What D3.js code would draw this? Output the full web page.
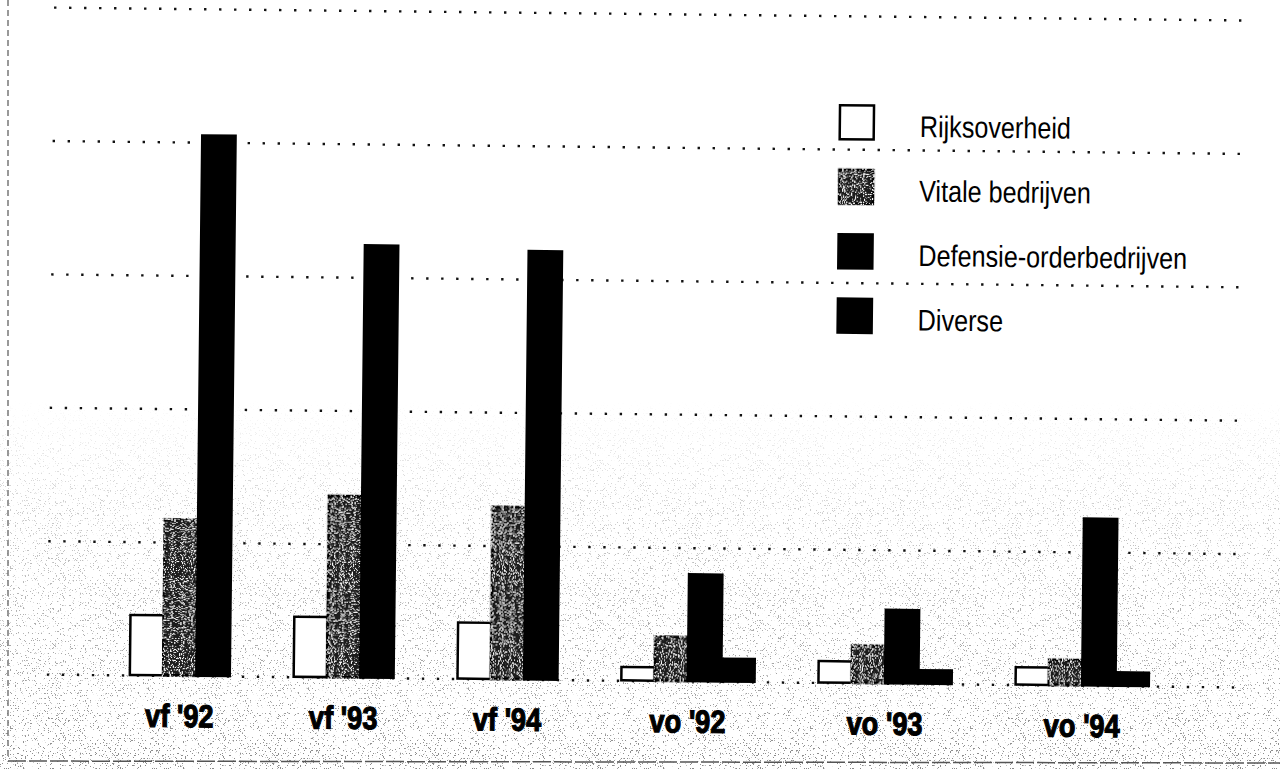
<html>
<head>
  <meta charset="UTF-8">
  <title>vf / vo per sector</title>
  <script src="https://d3js.org/d3.v7.min.js"></script>
  <style>
    body { margin: 0; background: #fff; }
  </style>
</head>
<body>
  <svg id="chart" width="1280" height="769"></svg>
  <script>
    // values, in gridline steps (no value axis is printed)
    const groups = ["vf '92", "vf '93", "vf '94", "vo '92", "vo '93", "vo '94"];
    const seriesNames = ["Rijksoverheid", "Vitale bedrijven", "Defensie-orderbedrijven", "Diverse"];
    const rijksoverheid = [0.45, 0.45, 0.42, 0.10, 0.16, 0.13];
    const vitaleBedrijven = [1.17, 1.36, 1.29, 0.33, 0.28, 0.19];
    const defensieOrderbedrijven = [4.05, 3.24, 3.21, 0.80, 0.55, 1.25];
    const diverse = [null, null, null, 0.17, 0.10, 0.10];
    const gridValues = [0, 1, 2, 3, 4, 5];

    const seriesValues = [rijksoverheid, vitaleBedrijven, defensieOrderbedrijven, diverse];
    const fills = ["#fff", "#1a1a1a", "#000", "#000"];
    const textured = [false, true, false, false];

    // narrow face: Arial-metric font squeezed horizontally
    const fontFamily = "'Liberation Sans', Arial, sans-serif";

    const svg = d3.select("#chart");
    const width = +svg.attr("width");
    const height = +svg.attr("height");

    const defs = svg.append("defs");

    // white specks for the grey raster
    const speckle = defs.append("filter").attr("id", "speckle");
    speckle.append("feTurbulence").attr("type", "fractalNoise").attr("baseFrequency", 0.9)
      .attr("numOctaves", 1).attr("seed", 4).attr("result", "n");
    speckle.append("feColorMatrix").attr("in", "n").attr("type", "matrix")
      .attr("values", "0 0 0 0 1  0 0 0 0 1  0 0 0 0 1  10 0 0 0 -5.6").attr("result", "w");
    speckle.append("feComposite").attr("in", "w").attr("in2", "SourceGraphic").attr("operator", "in").attr("result", "wc");
    const sm = speckle.append("feMerge");
    sm.append("feMergeNode").attr("in", "SourceGraphic");
    sm.append("feMergeNode").attr("in", "wc");

    // scan grain in the lower part of the page: isolated dark pixels
    const grain = defs.append("filter").attr("id", "grain")
      .attr("filterUnits", "userSpaceOnUse").attr("x", 0).attr("y", 0).attr("width", width).attr("height", height);
    grain.append("feTurbulence").attr("type", "fractalNoise").attr("baseFrequency", 1.6)
      .attr("numOctaves", 1).attr("seed", 11).attr("result", "n");
    grain.append("feColorMatrix").attr("in", "n").attr("type", "matrix")
      .attr("values", "0 0 0 0 0.2  0 0 0 0 0.2  0 0 0 0 0.2  20 0 0 0 -12.8");

    const fade = defs.append("linearGradient").attr("id", "fade")
      .attr("gradientUnits", "userSpaceOnUse").attr("x1", 0).attr("y1", 400).attr("x2", 0).attr("y2", height);
    fade.append("stop").attr("offset", 0).attr("stop-color", "#fff").attr("stop-opacity", 0);
    fade.append("stop").attr("offset", 0.3).attr("stop-color", "#fff").attr("stop-opacity", 0.4);
    fade.append("stop").attr("offset", 1).attr("stop-color", "#fff").attr("stop-opacity", 0.9);
    defs.append("mask").attr("id", "grainMask")
      .attr("maskUnits", "userSpaceOnUse").attr("x", 0).attr("y", 0).attr("width", width).attr("height", height)
      .append("rect").attr("width", width).attr("height", height).attr("fill", "url(#fade)");

    svg.append("rect").attr("width", width).attr("height", height).attr("fill", "#fff");
    svg.append("g").attr("mask", "url(#grainMask)")
      .append("rect").attr("width", width).attr("height", height).attr("fill", "#fff").attr("filter", "url(#grain)");

    // page frame of the scan
    svg.append("line").attr("x1", 8).attr("x2", 8).attr("y1", 0).attr("y2", 760)
      .attr("stroke", "#777").attr("stroke-width", 1.5).attr("stroke-dasharray", "6 4");
    svg.append("line").attr("x1", 8).attr("x2", width).attr("y1", 761).attr("y2", 763)
      .attr("stroke", "#555").attr("stroke-width", 1.5).attr("stroke-dasharray", "18 3");

    // the scan is slightly tilted
    const chart = svg.append("g").attr("transform", "rotate(0.62, 640, 385)");

    // layout: vf groups have three bars, vo groups four, constant gap between groups
    const gapUnits = 1.92;
    const barCounts = groups.map((g, i) => seriesValues.filter(s => s[i] !== null).length);
    const groupStart = [];
    let acc = 0;
    barCounts.forEach((n, i) => { groupStart.push(acc); acc += n + gapUnits; });
    const totalUnits = acc - gapUnits;

    const x = d3.scaleLinear().domain([0, totalUnits]).range([133, 1152]);
    const y = d3.scaleLinear().domain([0, 5]).range([680.5, 13.5]);

    const gridLeft = 50, gridRight = 1238;
    const grid = chart.append("g").attr("class", "grid")
      .attr("transform", `translate(${gridLeft},0)`)
      .call(d3.axisLeft(y).tickValues(gridValues).tickSize(-(gridRight - gridLeft)).tickFormat(""));
    grid.select(".domain").remove();
    grid.selectAll("line").attr("stroke", "#111").attr("stroke-width", 2.4)
      .attr("stroke-dasharray", "2.4 12.6").attr("stroke-linecap", "butt");

    // bars
    groups.forEach((g, i) => {
      let slot = 0;
      seriesValues.forEach((s, k) => {
        if (s[i] === null) return;
        const u = groupStart[i] + slot;
        chart.append("rect")
          .attr("x", x(u))
          .attr("width", x(u + 1) - x(u))
          .attr("y", y(s[i]))
          .attr("height", y(0) - y(s[i]))
          .attr("fill", fills[k])
          .attr("stroke", "#000")
          .attr("stroke-width", 2.5)
          .attr("filter", textured[k] ? "url(#speckle)" : null);
        slot += 1;
      });
      chart.append("g")
        .attr("transform", `translate(${x(groupStart[i] + barCounts[i] / 2)},732) scale(0.85,1)`)
        .append("text")
        .attr("text-anchor", "middle")
        .attr("font-family", fontFamily)
        .attr("font-weight", "bold")
        .attr("font-size", 32)
        .attr("fill", "#000")
        .attr("stroke", "#000")
        .attr("stroke-width", 1.2)
        .text(g);
    });

    // legend
    const legend = chart.append("g").attr("transform", "translate(837,103)");
    seriesNames.forEach((name, k) => {
      const row = legend.append("g").attr("transform", `translate(0,${k * 64.5})`);
      row.append("rect")
        .attr("width", 34).attr("height", 34)
        .attr("fill", fills[k]).attr("stroke", "#000").attr("stroke-width", 2.5)
        .attr("filter", textured[k] ? "url(#speckle)" : null);
      row.append("g")
        .attr("transform", `translate(80,31) scale(0.84,1)`)
        .append("text")
        .attr("font-family", fontFamily)
        .attr("font-size", 30)
        .attr("fill", "#000")
        .text(name);
    });
  </script>
</body>
</html>
